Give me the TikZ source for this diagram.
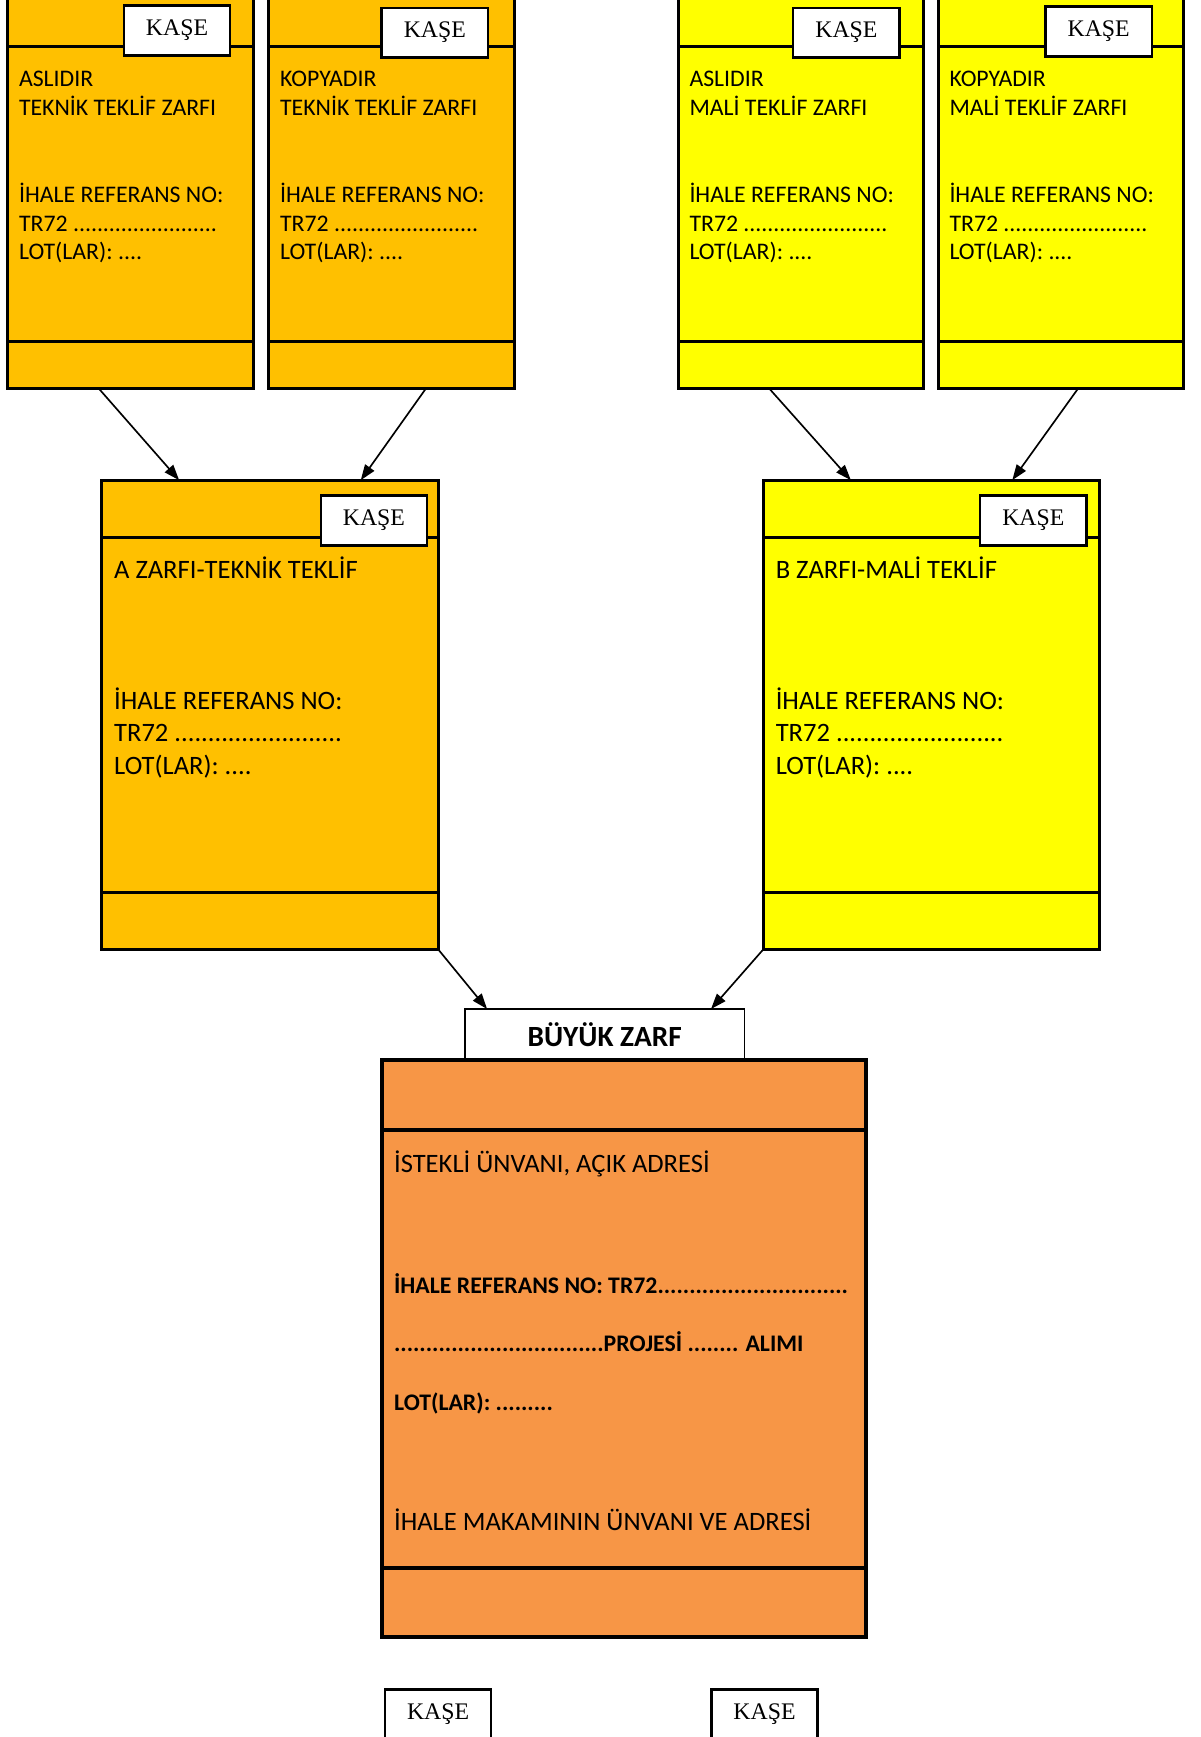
\documentclass[tikz,border=0pt]{standalone}
\usepackage{fontspec}
\setmainfont{Carlito}
\newfontfamily\kasefont{Liberation Serif}
\usetikzlibrary{arrows.meta,positioning,calc}
\definecolor{teknikcolor}{RGB}{255,192,0}
\definecolor{malicolor}{RGB}{255,255,0}
\definecolor{buyukcolor}{RGB}{247,150,70}
\tikzset{
  zarf/.style={draw, line width=2.6pt, anchor=north west, inner sep=0pt, outer sep=0pt},
  kase/.style={draw, fill=white, line width=2.2pt, anchor=north west, outer sep=0pt,
    minimum width=96pt, minimum height=45pt, inner sep=0pt,
    font=\kasefont\fontsize{21.5}{21.5}\selectfont},
  yazi/.style={anchor=base west, align=left, inner sep=0pt},
  ok/.style={-{Triangle[length=14pt,width=10pt]}, line width=1.5pt},
}

\begin{document}
\begin{tikzpicture}[x=1pt,y=-1pt]
    \useasboundingbox (0,0) rectangle (1085,1570);
    \clip (0,0) rectangle (1085,1570);

    % Small envelopes (asli / kopya)
    \foreach \name/\x/\renk/\ust/\alt/\kx/\ky in {
        t1/7/teknikcolor/ASLIDIR/TEKNİK/112/5,
        t2/243/teknikcolor/KOPYADIR/TEKNİK/345/7,
        m1/613/malicolor/ASLIDIR/MALİ/717/7,
        m2/848/malicolor/KOPYADIR/MALİ/945/6} {
        \node[zarf, fill=\renk, minimum width=222pt, minimum height=354pt] (\name) at (\x,-3) {};
        \draw[line width=2.6pt] (\x,42) -- ++(222,0);
        \draw[line width=2.6pt] (\x,309) -- ++(222,0);
        \node[kase] (\name-kase) at (\kx,\ky) {KAŞE};
        % anchor = baseline of the last line
        \node[yazi, font=\fontsize{21.5}{26}\selectfont] (\name-yazi) at (\x+10,235)
            {\ust\\ \alt{} TEKLİF ZARFI\\[53pt] İHALE REFERANS NO:\\ TR72 ........................\\ LOT(LAR): ....};
    }

    % A zarfi
    \node[zarf, fill=teknikcolor, minimum width=304pt, minimum height=424pt] (a) at (92,434) {};
    \draw[line width=2.6pt] (92,486) -- ++(304,0);
    \draw[line width=2.6pt] (92,807) -- ++(304,0);
    \node[kase] (a-kase) at (290,448) {KAŞE};
    \node[yazi, font=\fontsize{24}{29.5}\selectfont] (a-yazi) at (103,700)
        {A ZARFI-TEKNİK TEKLİF\\[88.5pt] İHALE REFERANS NO:\\ TR72 .........................\\ LOT(LAR): ....};

    % B zarfi
    \node[zarf, fill=malicolor, minimum width=304pt, minimum height=424pt] (b) at (690,434) {};
    \draw[line width=2.6pt] (690,486) -- ++(304,0);
    \draw[line width=2.6pt] (690,807) -- ++(304,0);
    \node[kase] (b-kase) at (886,448) {KAŞE};
    \node[yazi, font=\fontsize{24}{29.5}\selectfont] (b-yazi) at (701,700)
        {B ZARFI-MALİ TEKLİF\\[88.5pt] İHALE REFERANS NO:\\ TR72 .........................\\ LOT(LAR): ....};

    % Buyuk zarf
    \node[draw, fill=white, line width=1.6pt, anchor=north west, outer sep=0pt,
        minimum width=253pt, minimum height=47pt,
        font=\bfseries\fontsize{26.5}{26.5}\selectfont] (baslik) at (420,912) {\raisebox{-2pt}{BÜYÜK ZARF}};
    \node[zarf, line width=3.6pt, fill=buyukcolor, minimum width=438pt, minimum height=522pt] (buyuk) at (345,958) {};
    \draw[line width=3.6pt] (345,1021) -- ++(438,0);
    \draw[line width=3.6pt] (345,1417) -- ++(438,0);
    \node[yazi, font=\fontsize{24}{24}\selectfont] (istekli) at (356,1060) {İSTEKLİ ÜNVANI, AÇIK ADRESİ};
    \node[yazi, font=\bfseries\fontsize{21.5}{21.5}\selectfont] (referans) at (356,1169) {İHALE REFERANS NO: TR72..............................};
    \node[yazi, font=\bfseries\fontsize{21.5}{21.5}\selectfont] (proje) at (356,1222) {.................................PROJESİ ........ ALIMI};
    \node[yazi, font=\bfseries\fontsize{21.5}{21.5}\selectfont] (lot) at (356,1275) {LOT(LAR): .........};
    \node[yazi, font=\fontsize{24}{24}\selectfont] (makam) at (356,1383) {İHALE MAKAMININ ÜNVANI VE ADRESİ};

    % Bottom stamps
    \node[kase] (alt-kase1) at (348,1527) {KAŞE};
    \node[kase] (alt-kase2) at (643,1527) {KAŞE};

    % Arrows
    \draw[ok] ($(t1.south west)!0.37!(t1.south east)$) -- ($(a.north west)!0.23!(a.north east)$);
    \draw[ok] ($(t2.south west)!0.64!(t2.south east)$) -- ($(a.north west)!0.77!(a.north east)$);
    \draw[ok] ($(m1.south west)!0.37!(m1.south east)$) -- ($(b.north west)!0.26!(b.north east)$);
    \draw[ok] ($(m2.south west)!0.57!(m2.south east)$) -- ($(b.north west)!0.74!(b.north east)$);
    \draw[ok] (a.south east) -- ($(baslik.north west)!0.08!(baslik.north east)$);
    \draw[ok] (b.south west) -- ($(baslik.north west)!0.88!(baslik.north east)$);

\end{tikzpicture}
\end{document}
